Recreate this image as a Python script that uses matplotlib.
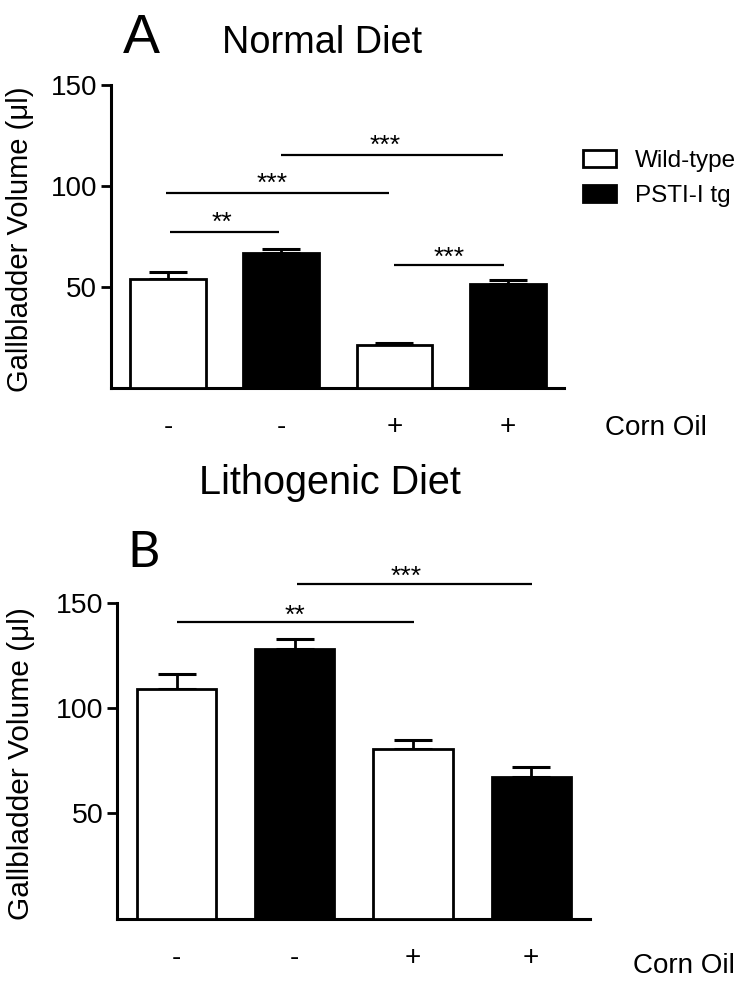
import matplotlib
matplotlib.use("Agg")
import matplotlib.pyplot as plt
import numpy as np

plt.rcParams['font.family'] = ['Liberation Sans', 'DejaVu Sans']

# ---- data ----
conditions = ["-", "-", "+", "+"]
groups = ["Wild-type", "PSTI-I tg", "Wild-type", "PSTI-I tg"]
legend_labels = ["Wild-type", "PSTI-I tg"]

normal_means = [53.8, 66.9, 21.1, 51.2]
normal_sem = [3.3, 1.8, 1.1, 2.3]

litho_means = [109.1, 128.0, 80.3, 67.3]
litho_sem = [7.1, 4.6, 4.5, 4.6]

# significance brackets: (x start, x end, line y, star label x, star label y, label)
normal_sig = [
    (0.02, 0.98, 77.1, 0.48, 85.6, "**"),
    (-0.02, 1.95, 96.6, 0.92, 104.9, "***"),
    (1.00, 2.96, 115.3, 1.92, 123.8, "***"),
    (2.00, 2.97, 60.8, 2.48, 68.2, "***"),
]
litho_sig = [
    (0.00, 2.01, 140.6, 1.00, 147.8, "**"),
    (1.02, 3.01, 158.7, 1.94, 166.3, "***"),
]

W, H = 751, 985
fig = plt.figure(figsize=(W / 100, H / 100), dpi=100)

def px_rect(l, r, t, b):
    return [l / W, 1 - b / H, (r - l) / W, (b - t) / H]

axA = fig.add_axes(px_rect(111.4, 564.3, 85, 387.5))
axB = fig.add_axes(px_rect(117.5, 590.3, 602.7, 918.5))

face = ["white", "black", "white", "black"]

def draw(ax, means, sem, sig, ylab_x, tick_fs, ylab_fs, star_fs):
    x = np.arange(len(means))
    bars = ax.bar(x, means, width=0.67, color=face, edgecolor="black",
                  linewidth=2.0, zorder=3)
    ax.errorbar(x, means, yerr=[np.zeros(len(sem)), sem], fmt="none",
                ecolor="black", elinewidth=2.0, capsize=14, capthick=2.2,
                zorder=2)
    ax.set_xlim(-0.5, 3.5)
    ax.set_ylim(0, 150)
    ax.set_yticks([50, 100, 150])
    ax.set_xticks(x)
    ax.set_xticklabels(conditions, fontsize=20)
    ax.tick_params(axis="x", length=0, pad=19)
    ax.tick_params(axis="y", length=7.2, width=2.0, labelsize=tick_fs, pad=3)
    for s in ["top", "right"]:
        ax.spines[s].set_visible(False)
    for s in ["left", "bottom"]:
        ax.spines[s].set_linewidth(2.2)
    ax.set_ylabel("Gallbladder Volume (\u03bcl)", fontsize=ylab_fs)
    ax.yaxis.set_label_coords(ylab_x, 0.49)
    for (x0, x1, y, tx, ty, lab) in sig:
        ax.plot([x0, x1], [y, y], color="black", lw=1.6, clip_on=False,
                solid_capstyle="butt", zorder=4)
        ax.annotate(lab, (tx, ty), xytext=(0, -11), textcoords="offset points",
                    ha="center", va="baseline", fontsize=star_fs,
                    annotation_clip=False)
    return bars

barsA = draw(axA, normal_means, normal_sem, normal_sig, -0.170, 20, 21, 19)
barsB = draw(axB, litho_means, litho_sem, litho_sig, -0.1745, 20.5, 21.5, 19)

axA.legend([barsA[0], barsA[1]], legend_labels, loc="upper left",
           bbox_to_anchor=(583 / W, 1 - 150 / H), bbox_transform=fig.transFigure,
           frameon=False, fontsize=17.5, handlelength=1.36, handleheight=0.68,
           handletextpad=0.78, labelspacing=0.55, borderaxespad=0, borderpad=0)

# titles and panel letters
fig.text(141.7 / W, 1 - 52.7 / H, "A", fontsize=40, ha="center", va="baseline")
fig.text(221.7 / W, 1 - 52.7 / H, "Normal Diet", fontsize=27.3, ha="left", va="baseline")
fig.text(330 / W, 1 - 494 / H, "Lithogenic Diet", fontsize=28.5, ha="center", va="baseline")
fig.text(144 / W, 1 - 566.7 / H, "B", fontsize=36, ha="center", va="baseline",
         family=["Lato", "DejaVu Sans"])
fig.text(605 / W, 1 - 435 / H, "Corn Oil", fontsize=20, ha="left", va="baseline")
fig.text(633 / W, 1 - 973 / H, "Corn Oil", fontsize=20, ha="left", va="baseline")

fig.savefig("out.png", dpi=100)
